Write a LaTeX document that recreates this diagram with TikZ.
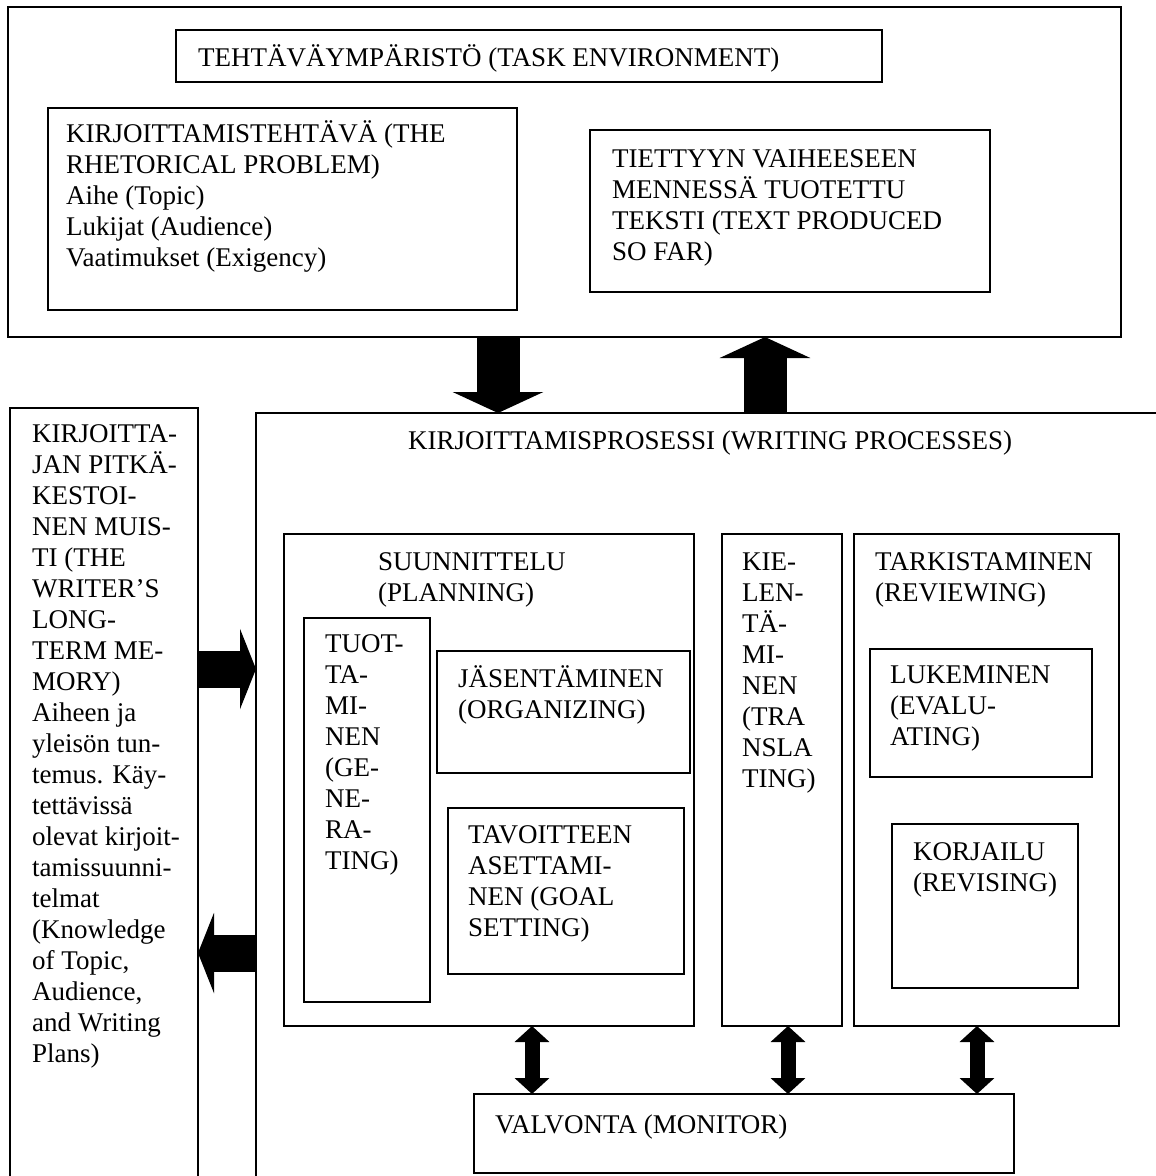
\documentclass[tikz,border=0pt]{standalone}
\usepackage{fontspec}
\setmainfont{Liberation Serif}
\usetikzlibrary{arrows.meta}
% tall strut so every label can be placed by its first baseline
\newcommand\fstrut{\rule{0pt}{25pt}}
\begin{document}
\begin{tikzpicture}[x=1pt,y=-1pt,
  frame/.style={draw,line width=1.6pt,anchor=north west,inner sep=0pt,outer sep=0pt},
  heavy/.style={frame,line width=2.4pt},
  mid/.style={frame,line width=2pt},
  txt/.style={anchor=north west,inner sep=0pt,align=left,
    font=\fontsize{27}{31}\selectfont},
  bigarrow/.style={line width=43pt,-{Triangle[width=90pt,length=21pt]}},
  sidearrow/.style={line width=37pt,-{Triangle[width=80pt,length=16pt]}},
  linkarrow/.style={line width=15pt,{Triangle[width=34pt,length=16pt]}-{Triangle[width=34pt,length=16pt]}}]
\useasboundingbox (0,0) rectangle (1156,1176);

% task environment
\node[heavy,minimum width=1113pt,minimum height=330pt] (env) at (8,7) {};
\node[frame,minimum width=706pt,minimum height=52pt] (envtitle) at (176,30) {};
\node[txt] (envtxt) at (198,41) {\fstrut TEHTÄVÄYMPÄRISTÖ (TASK ENVIRONMENT)};
\node[frame,minimum width=469pt,minimum height=202pt] (rhet) at (48,108) {};
\node[txt] (rhettxt) at (66,117) {\fstrut KIRJOITTAMISTEHTÄVÄ (THE\\RHETORICAL PROBLEM)\\Aihe (Topic)\\Lukijat (Audience)\\Vaatimukset (Exigency)};
\node[frame,minimum width=400pt,minimum height=162pt] (sofar) at (590,130) {};
\node[txt] (sofartxt) at (612,142) {\fstrut TIETTYYN VAIHEESEEN\\MENNESSÄ TUOTETTU\\TEKSTI (TEXT PRODUCED\\SO FAR)};

% long-term memory
\node[mid,minimum width=188pt,minimum height=800pt] (ltm) at (10,408) {};
\node[txt] (ltmtxt) at (32,417) {\fstrut KIRJOITTA-\\JAN PITKÄ-\\KESTOI-\\NEN MUIS-\\TI (THE\\WRITER’S\\LONG-\\TERM ME-\\MORY)\\Aiheen ja\\yleisön tun-\\temus. Käy-\\tettävissä\\olevat kirjoit-\\tamissuunni-\\telmat\\(Knowledge\\of Topic,\\Audience,\\and Writing\\Plans)};

% writing processes
\node[mid,minimum width=950pt,minimum height=800pt] (wp) at (256,413) {};
\node[txt] (wptxt) at (408,424) {\fstrut KIRJOITTAMISPROSESSI (WRITING PROCESSES)};

\node[frame,minimum width=410pt,minimum height=492pt] (plan) at (284,534) {};
\node[txt] (plantxt) at (378,545) {\fstrut SUUNNITTELU\\(PLANNING)};
\node[frame,minimum width=126pt,minimum height=384pt] (gen) at (304,618) {};
\node[txt] (gentxt) at (325,627) {\fstrut TUOT-\\TA-\\MI-\\NEN\\(GE-\\NE-\\RA-\\TING)};
\node[frame,minimum width=253pt,minimum height=122pt] (org) at (437,651) {};
\node[txt] (orgtxt) at (458,662) {\fstrut JÄSENTÄMINEN\\(ORGANIZING)};
\node[frame,minimum width=236pt,minimum height=166pt] (goal) at (448,808) {};
\node[txt] (goaltxt) at (468,818) {\fstrut TAVOITTEEN\\ASETTAMI-\\NEN (GOAL\\SETTING)};

\node[frame,minimum width=120pt,minimum height=492pt] (trans) at (722,534) {};
\node[txt] (transtxt) at (742,545) {\fstrut KIE-\\LEN-\\TÄ-\\MI-\\NEN\\(TRA\\NSLA\\TING)};

\node[frame,minimum width=265pt,minimum height=492pt] (rev) at (854,534) {};
\node[txt] (revtxt) at (875,545) {\fstrut TARKISTAMINEN\\(REVIEWING)};
\node[frame,minimum width=222pt,minimum height=128pt] (eval) at (870,649) {};
\node[txt] (evaltxt) at (890,658) {\fstrut LUKEMINEN\\(EVALU-\\ATING)};
\node[frame,minimum width=186pt,minimum height=164pt] (revis) at (892,824) {};
\node[txt] (revistxt) at (913,835) {\fstrut KORJAILU\\(REVISING)};

\node[frame,minimum width=540pt,minimum height=79pt] (mon) at (474,1094) {};
\node[txt] (montxt) at (495,1108) {\fstrut VALVONTA (MONITOR)};

% arrow columns and rows
\coordinate (cdown) at (498,0);
\coordinate (cup) at (765,0);
\coordinate (rin) at (0,669);
\coordinate (rout) at (0,953);
\coordinate (c1) at (532,0);
\coordinate (c2) at (788,0);
\coordinate (c3) at (977,0);

\draw[bigarrow] (env.south -| cdown) -- (wp.north -| cdown);
\draw[bigarrow] (wp.north -| cup) -- (env.south -| cup);
\draw[sidearrow] (ltm.east |- rin) -- (wp.west |- rin);
\draw[sidearrow] (wp.west |- rout) -- (ltm.east |- rout);
\draw[linkarrow] (plan.south -| c1) -- (mon.north -| c1);
\draw[linkarrow] (trans.south -| c2) -- (mon.north -| c2);
\draw[linkarrow] (rev.south -| c3) -- (mon.north -| c3);
\end{tikzpicture}
\end{document}
